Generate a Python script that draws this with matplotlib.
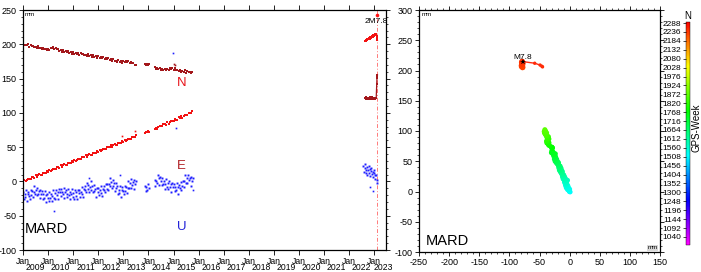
import numpy as np
import matplotlib
matplotlib.use('Agg')
import matplotlib.pyplot as plt
from matplotlib.colors import LinearSegmentedColormap, Normalize
from matplotlib.cm import ScalarMappable
from matplotlib.ticker import MultipleLocator, FixedLocator

plt.rcParams['font.family'] = ['Liberation Sans', 'DejaVu Sans']
plt.rcParams['axes.unicode_minus'] = False

# ---- daily solutions, MARD station (mm) ----
# each segment: (first epoch, last epoch) in decimal years, values evenly spread
span_a = (2009.00, 2013.50)
span_b = (2013.86, 2014.02)
span_c = (2014.25, 2015.75)
span_d = (2022.64, 2023.08)
post_t = [2023.10, 2023.11, 2023.12, 2023.13]

north_a = [0.8, -1.6, -0.5, -1.7, 0.0, -3.6, -1.4, -2.8, -1.9, -4.4,
           -3.4, -5.5, -2.9, -5.4, -5.1, -6.7, -4.7, -7.2, -6.2, -8.6,
           -6.4, -7.8, -5.5, -5.8, -3.5, -7.0, -5.3, -7.4, -6.9, -9.6,
           -8.7, -10.8, -8.2, -10.6, -10.2, -11.9, -9.8, -12.2, -11.1, -13.6,
           -11.5, -13.8, -12.6, -13.8, -12.0, -15.5, -13.2, -14.6, -13.6, -16.0,
           -14.9, -17.0, -14.3, -16.7, -16.3, -17.9, -15.8, -18.2, -17.1, -19.6,
           -17.5, -19.9, -18.8, -20.1, -18.4, -22.0, -19.8, -21.3, -20.4, -22.9,
           -21.9, -24.1, -21.5, -24.0, -23.7, -25.3, -23.1, -25.4, -24.2, -26.6,
           -24.2, -26.0, -24.3, -25.4, -23.7, -27.5, -25.7, -27.6, -27.2, -30.2,
           -29.6]
north_b = [-29.0, -30.1, -28.6, -29.5, -28.9]
north_c = [-33.2, -35.7, -34.7, -36.0, -34.3, -37.8, -35.5, -36.9, -35.9, -38.1,
           -36.6, -38.0, -34.4, -36.1, -35.3, -36.9, -35.2, -38.0, -37.0, -39.6,
           -37.5, -39.9, -38.7, -39.9, -38.2, -41.7, -39.4, -40.8, -39.8, -42.2,
           -41.1]
north_d = [-78.2, -79.5, -77.4, -78.8, -80.1, -77.9, -79.2, -78.5, -80.4, -77.6,
           -79.0, -78.1, -79.8, -77.3, -78.7, -80.0, -78.4, -79.3, -77.8, -78.9,
           -78.0]
north_post = [-58.0, -49.0, -46.0, -45.0]

east_a = [-0.7, 2.0, 0.0, 2.6, 3.9, 3.4, 3.2, 6.8, 6.0, 5.7,
          8.7, 6.2, 9.4, 10.4, 9.8, 9.7, 12.8, 12.4, 12.3, 15.4,
          13.9, 16.6, 14.6, 17.2, 18.5, 18.0, 17.8, 21.4, 20.6, 20.3,
          23.3, 20.8, 24.0, 25.0, 24.4, 24.3, 27.4, 27.0, 26.9, 30.0,
          28.5, 31.2, 29.2, 31.8, 33.1, 32.6, 32.4, 36.0, 35.2, 34.9,
          37.9, 35.4, 38.6, 39.6, 39.0, 38.9, 42.0, 41.6, 41.5, 44.6,
          43.1, 45.8, 43.8, 46.4, 47.7, 47.2, 47.0, 50.6, 49.8, 49.5,
          52.5, 50.0, 53.2, 54.2, 53.6, 53.5, 56.6, 56.2, 56.1, 59.2,
          57.7, 60.4, 58.4, 61.0, 62.3, 61.8, 61.6, 65.2, 64.4, 64.1,
          67.1]
east_b = [71.3, 72.8, 71.9, 73.4, 72.6]
east_c = [75.8, 78.6, 76.6, 79.3, 80.7, 80.3, 80.2, 83.9, 83.2, 82.9,
          86.0, 83.6, 86.8, 87.9, 87.4, 87.4, 90.6, 90.3, 90.3, 93.4,
          92.0, 94.8, 92.8, 95.5, 96.9, 96.5, 96.4, 100.1, 99.4, 99.1,
          102.2]
east_d = [204.5, 206.8, 205.2, 207.9, 206.1, 208.4, 207.3, 209.6, 208.2, 210.5,
          209.1, 211.3, 210.2, 212.4, 211.0, 213.5, 212.3, 214.6, 213.2, 215.4,
          214.8]
east_post = [212.0, 209.0, 207.0, 206.0]

up_span_a = (2009.00, 2013.50)
up_span_b = (2013.86, 2014.01)
up_span_c = (2014.25, 2015.77)
up_span_d = (2022.57, 2023.12)
up_a = [-15, -25, -19, -23, -13, -28, -18, -15, -21, -25,
        -13, -20, -14, -23, -15, -7, -19, -12, -20, -9,
        -18, -14, -24, -12, -18, -14, -25, -19, -24, -14,
        -30, -20, -18, -24, -28, -16, -24, -19, -28, -21,
        -12, -24, -17, -25, -13, -20, -15, -25, -11, -16,
        -11, -21, -15, -19, -9, -24, -15, -12, -18, -22,
        -11, -20, -15, -26, -19, -11, -23, -17, -25, -13,
        -21, -16, -26, -12, -17, -12, -22, -15, -18, -8,
        -22, -11, -7, -12, -15, -3, -11, -5, -15, -8,
        0, -13, -7, -16, -5, -14, -11, -22, -9, -15,
        -10, -20, -13, -17, -6, -21, -11, -7, -13, -16,
        -4, -11, -4, -13, -4, 5, -7, -1, -9, 2,
        -7, -3, -14, -2, -9, -6, -18, -12, -17, -7,
        -22, -12, -8, -14, -18, -6, -14, -8, -17, -9,
        1, -10, -2, -9, 3, -5, -1, -11, 2, -4,
        1]
up_b = [-6, -14, -8, -12, -4, -10]
up_c = [2, -7, 1, -2, 9, -5, 5, 7, 0, -5,
        5, -4, 0, -11, -4, 4, -8, -2, -11, 0,
        -8, -4, -15, -2, -8, -4, -14, -8, -12, -3,
        -18, -8, -5, -10, -13, -1, -7, 0, -8, 0,
        9, -2, 5, -2, 10, 2, 5, -6, 7, 1,
        5]
up_d = [22, 14, 19, 25, 12, 17, 21, 10, 16, 23,
        13, 18, 8, 15, 20, 11, 14, 6, 12, 17,
        9, 4, 10, 2, -3]

# isolated points
n_out_t = [2015.02, 2015.07]
n_out_v = [-29.0, -30.5]
e_out_t = [2012.95, 2013.45]
e_out_v = [66.0, 73.0]
u_out_t = [2010.23, 2011.62, 2012.85, 2014.97, 2015.10, 2022.85, 2022.95, 2015.78]
u_out_v = [-43, 5, 9, 188, 78, -8, -14, -13]

quake_t = 2023.10
quake_label = '2M7.8'
n_shift = 200  # N plotted shifted up in the time series panel

c_n = '#a3171b'
c_e = '#f21212'
c_u = '#1f1fff'


def epochs(span, vals):
    return np.linspace(span[0], span[1], len(vals))


def gps_week(t):
    return (np.asarray(t) - 1980.0137) * 365.25 / 7.0


fig = plt.figure(figsize=(7.01, 2.72), dpi=100)

# ---------------- time series ----------------
ax = fig.add_axes([23 / 701, 22 / 272, 363 / 701, 240 / 272])
spans = [span_a, span_b, span_c, span_d]
norths = [north_a, north_b, north_c, north_d]
easts = [east_a, east_b, east_c, east_d]
for sp, nv, ev in zip(spans, norths, easts):
    t = epochs(sp, nv)
    ax.plot(t, np.array(nv) + n_shift, 's', color=c_n, ms=1.8, mew=0)
    ax.plot(t, ev, 's', color=c_e, ms=1.8, mew=0)
for sp, uv in zip([up_span_a, up_span_b, up_span_c, up_span_d], [up_a, up_b, up_c, up_d]):
    ax.plot(epochs(sp, uv), uv, 's', color=c_u, ms=1.4, mew=0)

ax.plot(n_out_t, np.array(n_out_v) + n_shift, 's', color=c_n, ms=1.2, mew=0)
ax.plot(e_out_t, e_out_v, 's', color=c_e, ms=1.2, mew=0)
ax.plot(u_out_t, u_out_v, 's', color=c_u, ms=1.2, mew=0)

# after the earthquake
pt = [span_d[1]] + post_t
ax.plot(pt, np.array([north_d[-1]] + north_post) + n_shift, '-s', color=c_n, lw=0.9, ms=1.5, mew=0)
ax.plot(pt, [east_d[-1]] + east_post, '-s', color=c_e, lw=0.9, ms=1.5, mew=0)

ax.axvline(quake_t, color='#ff7a7a', lw=0.7, ls=(0, (4, 2, 1, 2)), zorder=0)
ax.plot([quake_t], [243], 'o', color='#ff1010', ms=2.6, mew=0)
ax.text(quake_t, 233, quake_label, fontsize=6, ha='center', va='center')

ax.set_xlim(2009.0, 2023.47)
ax.set_ylim(-100, 250)
ax.yaxis.set_major_locator(MultipleLocator(50))
ax.yaxis.set_minor_locator(MultipleLocator(10))
years = list(range(2009, 2024))
ax.xaxis.set_major_locator(FixedLocator(years))
ax.set_xticklabels(['Jan'] * len(years))
mid = [y + 0.5 for y in years[:-1]] + [(2023 + 2023.47) / 2 + 0.12]
ax.xaxis.set_minor_locator(FixedLocator(mid))
ax.xaxis.set_minor_formatter(plt.FixedFormatter([str(y) for y in years]))
ax.tick_params(axis='x', which='major', direction='out', length=3.5, width=0.6,
               labelsize=6.2, pad=1.2, top=True)
ax.tick_params(axis='x', which='minor', length=0, labelsize=6.2, pad=9.6)
ax.tick_params(axis='y', which='major', direction='out', length=3, width=0.6,
               labelsize=6.5, pad=1.5, right=True)
ax.tick_params(axis='y', which='minor', direction='out', length=1.5, width=0.5, right=True)
for s in ax.spines.values():
    s.set_linewidth(0.9)

ax.text(2009.08, 247, 'mm', fontsize=4.5, va='top', ha='left')
ax.text(2009.06, -69, 'MARD', fontsize=10.5, va='center', ha='left')
ax.text(2015.31, 143, 'N', color='#e8161c', fontsize=9.5, ha='center', va='center')
ax.text(2015.31, 23, 'E', color='#b02025', fontsize=9.5, ha='center', va='center')
ax.text(2015.31, -67, 'U', color='#2323d8', fontsize=9.5, ha='center', va='center')

# ---------------- horizontal trajectory ----------------
cmap = LinearSegmentedColormap.from_list(
    'gmt_rainbow', ['#ff00ff', '#0000ff', '#00ffff', '#00ff00', '#ffff00', '#ff0000'])
norm = Normalize(vmin=993, vmax=2297)

ax2 = fig.add_axes([419 / 701, 20 / 272, 241 / 701, 242 / 272])
all_t = np.concatenate([epochs(sp, nv) for sp, nv in zip(spans, norths)])
all_n = np.concatenate([np.array(nv, dtype=float) for nv in norths])
all_e = np.concatenate([np.array(ev, dtype=float) for ev in easts])
ax2.scatter(all_n, all_e, c=gps_week(all_t), cmap=cmap, norm=norm, s=13, linewidths=0)
ax2.plot([north_d[-1]] + north_post, [east_d[-1]] + east_post, '-', color='#ff2a10', lw=1.0)
ax2.scatter(north_post, east_post, c=gps_week(post_t), cmap=cmap, norm=norm, s=6, linewidths=0)
ax2.plot([north_d[-1]], [east_d[-1]], '*', color='k', ms=4, mew=0)
ax2.text(north_d[-1], east_d[-1] + 1, 'M7.8', fontsize=6, ha='center', va='bottom')

ax2.set_xlim(-250, 150)
ax2.set_ylim(-100, 300)
for a in (ax2.xaxis, ax2.yaxis):
    a.set_major_locator(MultipleLocator(50))
    a.set_minor_locator(MultipleLocator(10))
ax2.tick_params(which='major', direction='out', length=3, width=0.6, labelsize=6.5,
                pad=1.5, top=True, right=True)
ax2.tick_params(which='minor', direction='out', length=1.5, width=0.5, top=True, right=True)
for s in ax2.spines.values():
    s.set_linewidth(0.9)
ax2.text(-246, 296, 'mm', fontsize=4.5, va='top', ha='left')
ax2.text(146, -93, 'mm', fontsize=4.5, va='center', ha='right',
         bbox=dict(boxstyle='square,pad=0.1', fc='#d8d8d8', ec='none'))
ax2.text(-239, -81, 'MARD', fontsize=10.5, va='center', ha='left')

# ---------------- colour scale ----------------
cax = fig.add_axes([686 / 701, 27 / 272, 3.5 / 701, 223.5 / 272])
cb = fig.colorbar(ScalarMappable(norm=norm, cmap=cmap), cax=cax)
cb.set_ticks(list(range(1040, 2289, 52)))
cb.outline.set_linewidth(0.3)
cax.yaxis.set_ticks_position('left')
cax.yaxis.set_label_position('left')
cax.tick_params(labelsize=6, length=2.5, width=0.5, pad=1)
fig.text(687.5 / 701, 1 - 16 / 272, 'N', fontsize=7, ha='center', va='center')
fig.text(697 / 701, 1 - 128 / 272, 'GPS-Week', fontsize=7, rotation=90,
         ha='center', va='center')

fig.savefig('out.png', dpi=100)
